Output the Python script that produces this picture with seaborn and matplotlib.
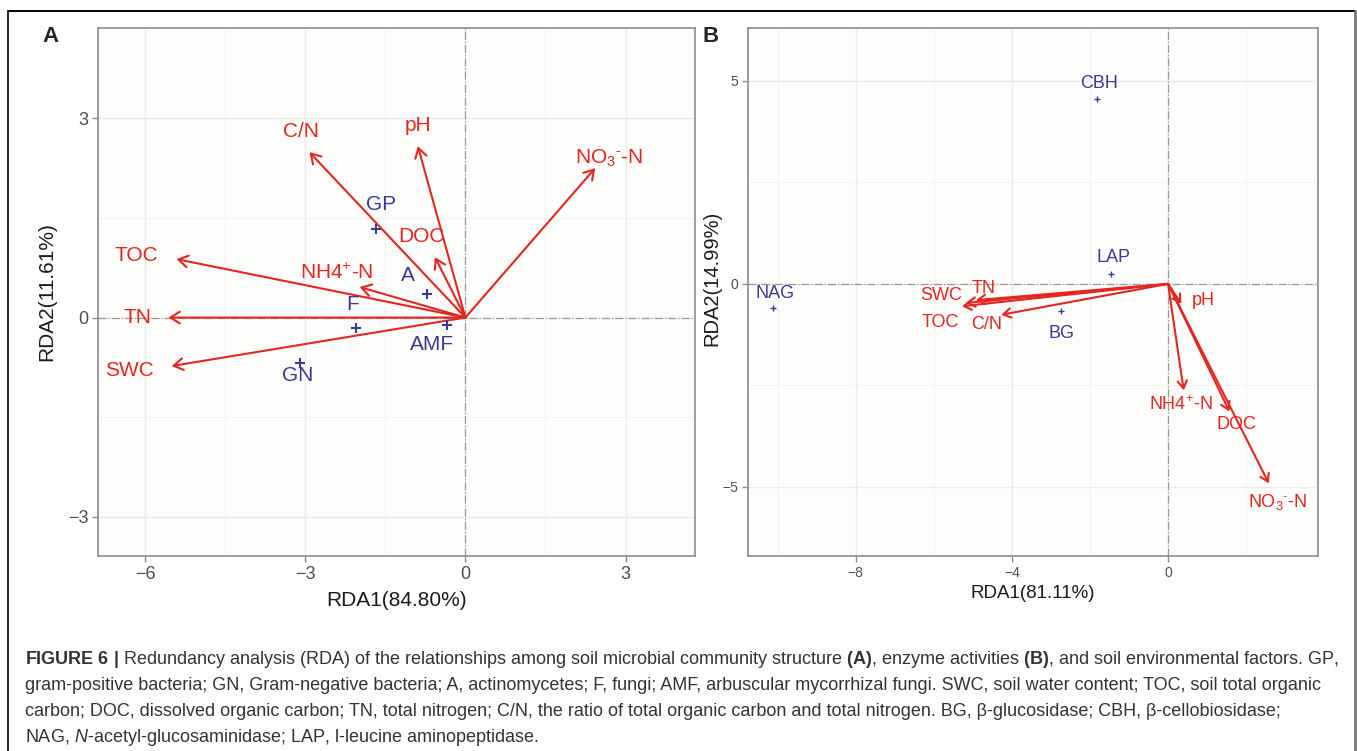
import matplotlib
matplotlib.use("Agg")
import matplotlib.pyplot as plt
from matplotlib.lines import Line2D
from matplotlib.ticker import MultipleLocator
import numpy as np
import pandas as pd
import seaborn as sns

RED = "#E3261F"
BLUE = "#3A3A94"

NO3 = r"NO$_3$$^{\text{-}}$-N"
NH4 = r"NH4$^{+}$-N"

# ---- panel A: microbial community structure ----
env_names_A = ["C/N", "pH", NO3, "TOC", "TN", "SWC", NH4, "DOC"]
env_x_A = [-2.92, -0.89, 2.43, -5.41, -5.56, -5.50, -1.98, -0.57]
env_y_A = [2.49, 2.58, 2.25, 0.88, 0.0, -0.73, 0.46, 0.91]
env_lab_x_A = [-3.08, -0.88, 2.70, -6.16, -6.14, -6.29, -2.41, -0.82]
env_lab_y_A = [2.80, 2.89, 2.39, 0.93, 0.0, -0.80, 0.67, 1.22]

sp_names_A = ["GP", "A", "F", "AMF", "GN"]
sp_x_A = [-1.68, -0.71, -2.04, -0.35, -3.09]
sp_y_A = [1.33, 0.36, -0.16, -0.11, -0.68]
sp_lab_x_A = [-1.58, -1.07, -2.12, -0.63, -3.14]
sp_lab_y_A = [1.71, 0.64, 0.20, -0.40, -0.875]

# ---- panel B: enzyme activities ----
env_names_B = ["TN", "SWC", "TOC", "C/N", "pH", NH4, "DOC", NO3]
env_x_B = [-4.92, -5.18, -5.28, -4.27, 0.34, 0.40, 1.57, 2.58]
env_y_B = [-0.40, -0.47, -0.55, -0.76, -0.49, -2.62, -3.14, -4.91]
env_lab_x_B = [-4.73, -5.82, -5.84, -4.66, 0.89, 0.33, 1.74, 2.80]
env_lab_y_B = [-0.12, -0.29, -0.96, -0.99, -0.41, -2.98, -3.47, -5.38]

sp_names_B = ["CBH", "LAP", "BG", "NAG"]
sp_x_B = [-1.82, -1.45, -2.75, -10.11]
sp_y_B = [4.55, 0.25, -0.68, -0.60]
sp_lab_x_B = [-1.77, -1.41, -2.74, -10.07]
sp_lab_y_B = [4.94, 0.64, -1.21, -0.23]

caption_lines = [
    r"$\mathbf{FIGURE\ 6\ |}$ Redundancy analysis (RDA) of the relationships among soil microbial community structure "
    r"$\mathbf{(A)}$, enzyme activities $\mathbf{(B)}$, and soil environmental factors. GP,",
    "gram-positive bacteria; GN, Gram-negative bacteria; A, actinomycetes; F, fungi; AMF, arbuscular mycorrhizal fungi. "
    "SWC, soil water content; TOC, soil total organic",
    "carbon; DOC, dissolved organic carbon; TN, total nitrogen; C/N, the ratio of total organic carbon and total nitrogen. "
    "BG, β-glucosidase; CBH, β-cellobiosidase;",
    r"NAG, $\mathit{N}$-acetyl-glucosaminidase; LAP, l-leucine aminopeptidase.",
]

sns.set_style("ticks")
plt.rcParams["font.family"] = ["Liberation Sans", "DejaVu Sans"]
plt.rcParams["mathtext.fontset"] = "custom"
plt.rcParams["mathtext.rm"] = "Liberation Sans"
plt.rcParams["mathtext.it"] = "Liberation Sans:italic"
plt.rcParams["mathtext.bf"] = "Liberation Sans:bold"
plt.rcParams["mathtext.default"] = "regular"


def draw_panel(ax, env, ex, ey, elx, ely, sp, sx, sy, slx, sly,
               xlim, ylim, xmaj, xmin, ymaj, ymin, xlabel, ylabel,
               txt, tick, lab, msize, mlw, hscale):
    ax.set_facecolor("#FDFDFC")
    ax.set_xlim(*xlim)
    ax.set_ylim(*ylim)
    ax.xaxis.set_major_locator(MultipleLocator(xmaj))
    ax.xaxis.set_minor_locator(MultipleLocator(xmin))
    ax.yaxis.set_major_locator(MultipleLocator(ymaj))
    ax.yaxis.set_minor_locator(MultipleLocator(ymin))
    ax.grid(which="major", color="#EBEBEB", lw=1.0, zorder=0)
    ax.grid(which="minor", color="#F2F2F2", lw=0.7, zorder=0)
    ax.set_axisbelow(True)
    ax.axhline(0, color="#9A9A9A", lw=0.9, ls="-.", zorder=1)
    ax.axvline(0, color="#9A9A9A", lw=0.9, ls="-.", zorder=1)

    for x, y in zip(ex, ey):
        ax.annotate("", xy=(x, y), xytext=(0, 0),
                    arrowprops=dict(arrowstyle="->,head_length=0.45,head_width=0.28",
                                    color=RED, lw=1.5, shrinkA=0, shrinkB=0,
                                    mutation_scale=hscale), zorder=3)
    for name, x, y in zip(env, elx, ely):
        ax.text(x, y, name, color=RED, fontsize=txt, ha="center", va="center", zorder=4)

    df = pd.DataFrame({"x": sx, "y": sy})
    sns.scatterplot(data=df, x="x", y="y", marker="+", color=BLUE, s=msize,
                    linewidth=mlw, ax=ax, zorder=4, legend=False)
    for name, x, y in zip(sp, slx, sly):
        ax.text(x, y, name, color=BLUE, fontsize=txt, ha="center", va="center", zorder=4)

    for s in ax.spines.values():
        s.set_color("#8C8C8C")
        s.set_linewidth(1.2)
    ax.tick_params(which="major", length=4, width=1, color="#8C8C8C",
                   labelsize=tick, labelcolor="#4D4D4D", pad=3)
    ax.tick_params(which="minor", length=0)
    ax.set_xlabel(xlabel, fontsize=lab, color="#1A1A1A")
    ax.set_ylabel(ylabel, fontsize=lab, color="#1A1A1A")


fig = plt.figure(figsize=(13.57, 7.51), dpi=100)
W, H = 1357, 751

axA = fig.add_axes([98 / W, 1 - 556 / H, (695 - 98) / W, (556 - 28) / H])
draw_panel(axA, env_names_A, env_x_A, env_y_A, env_lab_x_A, env_lab_y_A,
           sp_names_A, sp_x_A, sp_y_A, sp_lab_x_A, sp_lab_y_A,
           (-6.88, 4.30), (-3.59, 4.36), 3, 1.5, 3, 1.5,
           "RDA1(84.80%)", "RDA2(11.61%)", 15, 13, 15, 60, 1.5, 15)
axA.xaxis.labelpad = 6
axA.yaxis.labelpad = 8

axB = fig.add_axes([748 / W, 1 - 556 / H, (1318 - 748) / W, (556 - 28) / H])
draw_panel(axB, env_names_B, env_x_B, env_y_B, env_lab_x_B, env_lab_y_B,
           sp_names_B, sp_x_B, sp_y_B, sp_lab_x_B, sp_lab_y_B,
           (-10.76, 3.84), (-6.70, 6.30), 4, 2, 5, 2.5,
           "RDA1(81.11%)", "RDA2(14.99%)", 13, 10, 13.5, 25, 1.0, 12)
axB.xaxis.labelpad = 4
axB.yaxis.label.set_fontsize(14.5)
axB.yaxis.set_label_coords(-0.046, 0.525)

fig.text(42 / W, 1 - 36 / H, "A", fontsize=16, fontweight="bold", ha="left", va="center")
fig.text(702 / W, 1 - 36 / H, "B", fontsize=16, fontweight="bold", ha="left", va="center")

# outer frame
fig.add_artist(Line2D([8 / W, 1355 / W], [1 - 10.5 / H, 1 - 10.5 / H], color="black", lw=1.4,
                      transform=fig.transFigure))
fig.add_artist(Line2D([8 / W, 8 / W], [1 - 10.5 / H, 0], color="#222222", lw=1.4,
                      transform=fig.transFigure))
fig.add_artist(Line2D([1355 / W, 1355 / W], [1 - 10.5 / H, 0], color="#777777", lw=2,
                      transform=fig.transFigure))

for i, line in enumerate(caption_lines):
    fig.text(25 / W, 1 - (660 + 26 * i) / H, line, fontsize=12.95, color="#333333",
             ha="left", va="center")

fig.savefig("out.png", dpi=100)
